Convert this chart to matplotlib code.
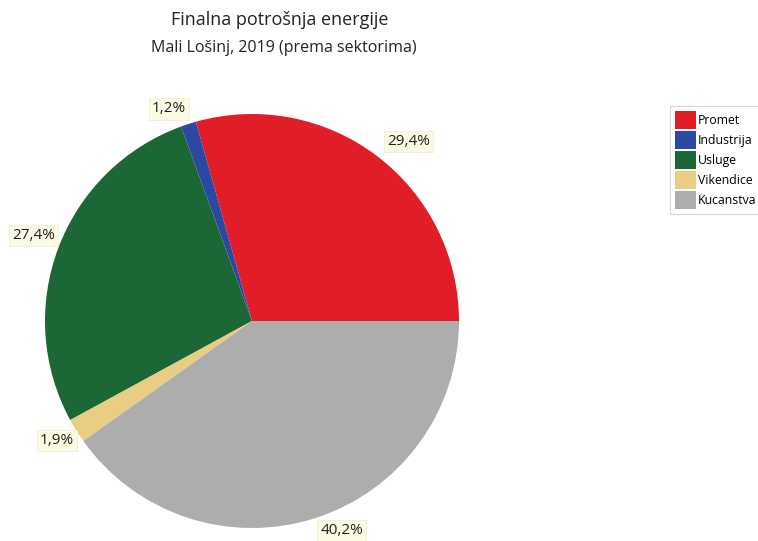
import matplotlib
matplotlib.use("Agg")
import matplotlib.pyplot as plt
from matplotlib.patches import Patch
import numpy as np

categories = ["Promet", "Industrija", "Usluge", "Vikendice", "Kucanstva"]
values = [29.4, 1.2, 27.4, 1.9, 40.2]
colors = ["#E11E28", "#2D48A3", "#1B6836", "#E8CD82", "#ADADAD"]

# label placement style: (radial distance, angle offset in degrees)
label_dist = [1.15, 1.10, 1.135, 1.105, 1.10]
label_dang = [-4.0, 3.5, -0.7, -0.6, 5.5]

plt.rcParams['font.family'] = ['Open Sans', 'DejaVu Sans']

fig = plt.figure(figsize=(7.58, 5.41), dpi=100)
fig.patch.set_facecolor("white")
ax = fig.add_axes([45/758, 13/541, 414/758, 414/541])
ax.set_aspect('equal')

wedges, _ = ax.pie(values, colors=colors, startangle=0, counterclock=True,
                   radius=1.0, wedgeprops=dict(linewidth=0))
for w, v, d, da in zip(wedges, values, label_dist, label_dang):
    mid = np.deg2rad((w.theta1 + w.theta2) / 2 + da)
    ax.text(d * np.cos(mid), d * np.sin(mid), f"{v:.1f}%".replace('.', ','),
            ha='center', va='center', fontsize=11, color="#222222",
            bbox=dict(boxstyle="square,pad=0.2", facecolor="#FBFBE3",
                      edgecolor="#EEEED8", linewidth=0.6))
ax.set_xlim(-1, 1)
ax.set_ylim(-1, 1)
ax.axis('off')

fig.text(280/758, 1 - 20/541, "Finalna potrošnja energije", ha='center', va='center',
         fontsize=13, color="#222222")
fig.text(284/758, 1 - 48/541, "Mali Lošinj, 2019 (prema sektorima)", ha='center', va='center',
         fontsize=11.5, color="#222222")

handles = [Patch(facecolor=c, edgecolor='none') for c in colors]
leg = fig.legend(handles, categories, loc='upper left', bbox_to_anchor=(670/758, 1 - 106/541),
                 frameon=True, fontsize=8.8, handlelength=1.75, handleheight=1.9,
                 handletextpad=0.12, borderpad=0.4, labelspacing=0.15, borderaxespad=0,
                 fancybox=False)
leg.get_frame().set_edgecolor("#CCCCCC")
leg.get_frame().set_linewidth(0.8)

fig.savefig("out.png", dpi=100)
